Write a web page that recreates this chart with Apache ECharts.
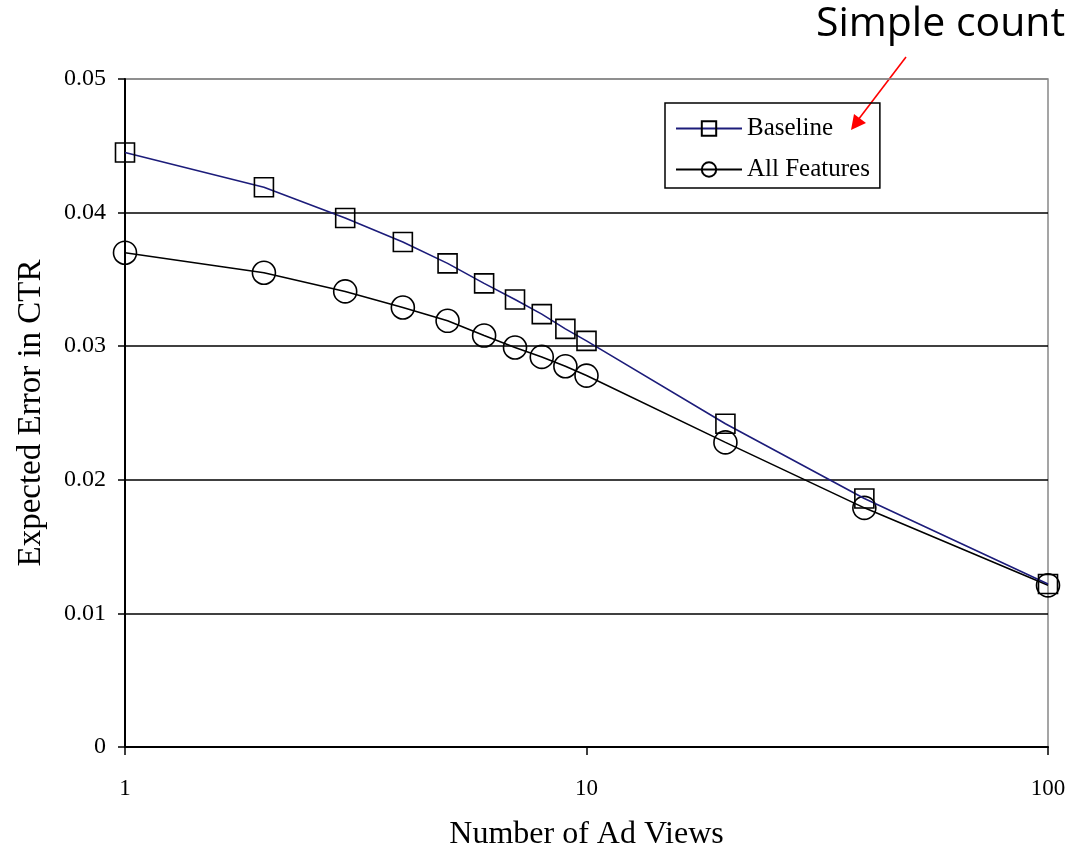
<!DOCTYPE html>
<html>
<head>
<meta charset="utf-8">
<script src="https://cdn.jsdelivr.net/npm/echarts@6/dist/echarts.min.js"></script>
<style>html,body{margin:0;padding:0;background:#fff}#c{width:1069px;height:856px}</style>
</head>
<body>
<div id="c"></div>
<script>
const adViews = [1, 2, 3, 4, 5, 6, 7, 8, 9, 10, 20, 40, 100];
const baseline = [0.0445, 0.0419, 0.0396, 0.0378, 0.0362, 0.0347, 0.0335, 0.0324, 0.0313, 0.0304, 0.0242, 0.0186, 0.0122];
const allFeatures = [0.0370, 0.0355, 0.0341, 0.0329, 0.0319, 0.0308, 0.0299, 0.0292, 0.0285, 0.0278, 0.0228, 0.0179, 0.0121];
const yTicks = ['0', '0.01', '0.02', '0.03', '0.04', '0.05'];

const serif = '"Liberation Serif", "Times New Roman", serif';
const chart = echarts.init(document.getElementById('c'), null, {renderer: 'canvas'});
const pairs = (ys) => adViews.map((x, i) => [x, ys[i]]);

chart.setOption({
  animation: false,
  backgroundColor: '#fff',
  grid: {left: 125, right: 21, top: 79, bottom: 107, show: true, borderColor: '#888', borderWidth: 1.5},
  legend: {
    left: 665, top: 103, orient: 'vertical',
    padding: [13, 10, 6, 10],
    borderColor: '#000', borderWidth: 1.5,
    itemWidth: 66, itemHeight: 18, itemGap: 16,
    textStyle: {fontFamily: serif, fontSize: 25, color: '#000'},
    data: ['Baseline', 'All Features']
  },
  xAxis: {
    type: 'log', logBase: 10, min: 1, max: 100,
    name: 'Number of Ad Views', nameLocation: 'middle', nameGap: 72,
    nameTextStyle: {fontFamily: serif, fontSize: 32, color: '#000'},
    axisLine: {show: true, lineStyle: {color: '#000', width: 2}},
    axisTick: {show: true, length: 8, lineStyle: {color: '#000', width: 1.5}},
    axisLabel: {fontFamily: serif, fontSize: 23, color: '#000', margin: 30},
    splitLine: {show: false},
    minorTick: {show: false}
  },
  yAxis: {
    type: 'value', min: 0, max: 0.05, interval: 0.01,
    name: 'Expected Error in CTR', nameLocation: 'middle', nameGap: 77,
    nameTextStyle: {fontFamily: serif, fontSize: 33, color: '#000'},
    axisLine: {show: true, lineStyle: {color: '#000', width: 2}},
    axisTick: {show: true, length: 7, lineStyle: {color: '#000', width: 1.5}},
    axisLabel: {fontFamily: serif, fontSize: 24, color: '#000', margin: 19,
      formatter: (v, i) => yTicks[i]},
    splitLine: {show: true, lineStyle: {color: ['#000', '#000', '#000', '#000', '#000', '#888'], width: 1.5}}
  },
  series: [
    {
      name: 'Baseline', type: 'line', data: pairs(baseline),
      symbol: 'rect', symbolSize: 19,
      lineStyle: {color: '#1c1c7a', width: 1.6},
      itemStyle: {color: 'rgba(255,255,255,0)', borderColor: '#000', borderWidth: 1.6},
      z: 3
    },
    {
      name: 'All Features', type: 'line', data: pairs(allFeatures),
      symbol: 'circle', symbolSize: 23,
      lineStyle: {color: '#000', width: 1.6},
      itemStyle: {color: 'rgba(255,255,255,0)', borderColor: '#000', borderWidth: 1.6},
      z: 2
    }
  ],
  graphic: [
    {type: 'text', left: 816, top: 4, style: {text: 'Simple count', fontFamily: '"Open Sans", "Liberation Sans", sans-serif', fontSize: 41, fill: '#000'}},
    {type: 'line', shape: {x1: 906, y1: 57, x2: 858, y2: 120}, style: {stroke: '#f00', lineWidth: 1.6}},
    {type: 'polygon', shape: {points: [[851, 130], [854, 114], [866, 123]]}, style: {fill: '#f00'}}
  ]
});
</script>
</body>
</html>
